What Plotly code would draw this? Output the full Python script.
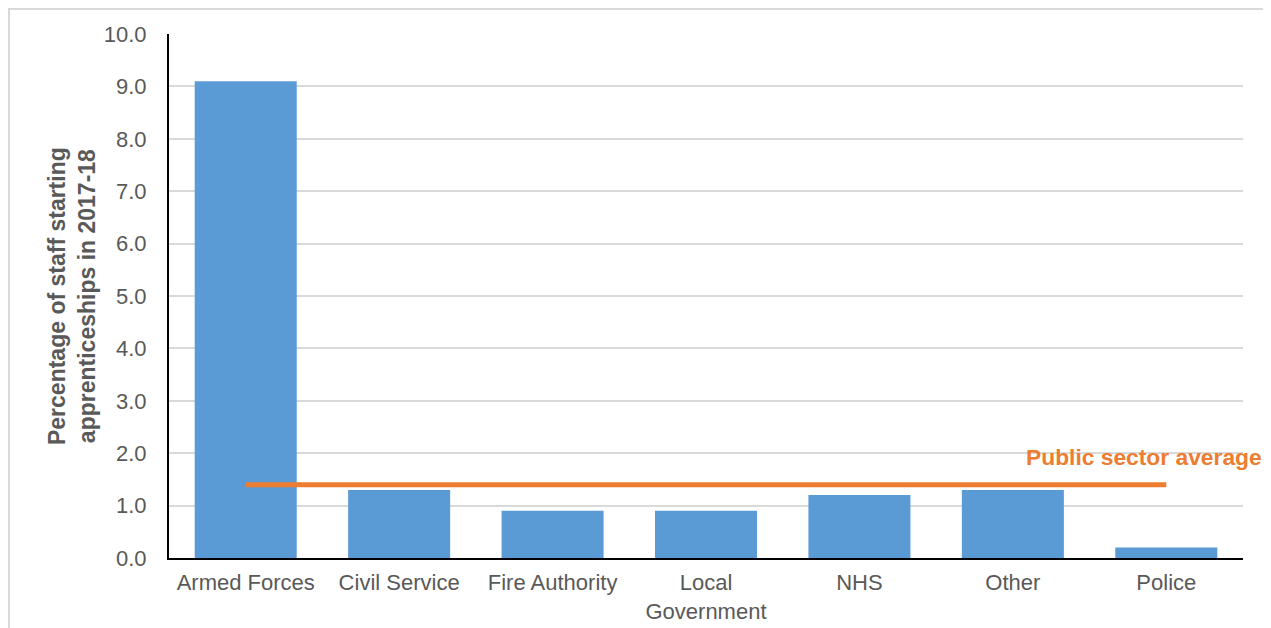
import plotly.graph_objects as go

categories = ["Armed Forces", "Civil Service", "Fire Authority", "Local<br>Government", "NHS", "Other", "Police"]
values = [9.1, 1.3, 0.9, 0.9, 1.2, 1.3, 0.2]
average = 1.4
y_ticks = [0, 1, 2, 3, 4, 5, 6, 7, 8, 9, 10]
y_title_lines = ["Percentage of staff starting", "apprenticeships in 2017-18"]
avg_label = "Public sector average"

FONT = "Liberation Sans, Arial, sans-serif"
GREY = "#595959"

fig = go.Figure()
fig.add_trace(go.Bar(x=categories, y=values, marker=dict(color="#5B9BD5", line=dict(width=0)),
                     showlegend=False, hoverinfo="x+y"))
fig.add_trace(go.Scatter(x=[categories[0], categories[-1]], y=[average, average], mode="lines",
                         line=dict(color="#ED7D31", width=5), showlegend=False))

fig.update_layout(
    width=1271, height=628,
    margin=dict(l=161, r=36, t=26, b=78),
    paper_bgcolor="white", plot_bgcolor="white",
    bargap=0.335,
    font=dict(family=FONT, color=GREY),
    xaxis=dict(showline=True, linecolor="black", linewidth=2, ticks="", showgrid=False,
               tickfont=dict(size=22, color=GREY), zeroline=False, ticklabelstandoff=4),
    yaxis=dict(range=[0, 10], tickvals=y_ticks, tickformat=".1f", showline=True, linecolor="black",
               linewidth=2, showgrid=True, gridcolor="#D9D9D9", gridwidth=1.5, zeroline=False,
               ticks="", ticklen=0, tickfont=dict(size=22, color=GREY), ticklabelstandoff=16),
)

fig.add_annotation(text="<br>".join("<b>" + t + "</b>" for t in y_title_lines),
                   xref="paper", yref="paper", x=-0.0903, y=0.5, textangle=-90,
                   showarrow=False, font=dict(size=23, color=GREY, family=FONT), xanchor="center",
                   yanchor="middle")
fig.add_annotation(text="<b>" + avg_label + "</b>", xref="paper", yref="y", x=1.0196, y=1.93,
                   xanchor="right", yanchor="middle", showarrow=False,
                   font=dict(size=22.8, color="#ED7D31", family=FONT))

fig.add_shape(type="rect", xref="paper", yref="paper", x0=-0.149, x1=1.0233, y0=-0.2, y1=1.0477,
              line=dict(color="#D9D9D9", width=2), fillcolor="rgba(0,0,0,0)", layer="below")

fig.write_html("out.html")
